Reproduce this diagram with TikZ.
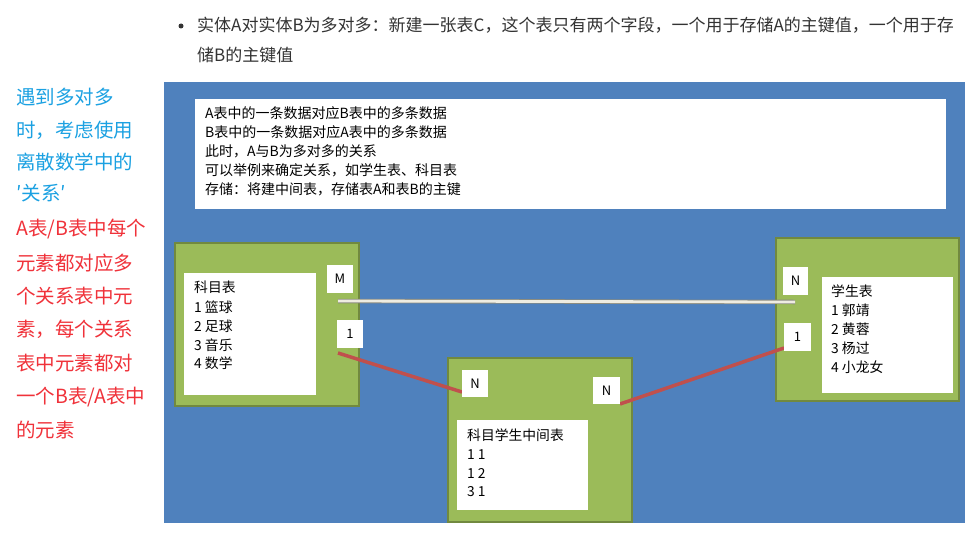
\documentclass[tikz,border=0pt]{standalone}
\usepackage{fontspec}
\setmainfont{Noto Sans CJK SC}
\definecolor{panelblue}{HTML}{4F81BD}
\definecolor{boxgreen}{HTML}{9BBB59}
\definecolor{boxgreendark}{HTML}{71893F}
\definecolor{relred}{HTML}{C0504D}
\definecolor{linecream}{HTML}{EEECE1}
\definecolor{lineshadow}{HTML}{8C8C80}
\definecolor{noteblue}{HTML}{1BA1E2}
\definecolor{notered}{HTML}{F0323A}
\definecolor{toptext}{HTML}{333333}
\pgfdeclarelayer{bg}
\pgfdeclarelayer{mid}
\pgfsetlayers{bg,mid,main}
\tikzset{
  rectbox/.style={anchor=north west, inner sep=0pt, outer sep=0pt},
  greenbox/.style={rectbox, fill=boxgreen, draw=boxgreendark, line width=1.5pt},
  whitebox/.style={rectbox, fill=white},
  tagbox/.style={rectbox, fill=white, font=\fontsize{13}{13}\selectfont, text=black},
  bigline/.style={anchor=base west, inner sep=0pt, font=\fontsize{19.5}{19.5}\selectfont},
  topline/.style={anchor=base west, inner sep=0pt, font=\fontsize{17}{17}\selectfont, text=toptext},
  noteline/.style={anchor=base west, inner sep=0pt, font=\fontsize{14}{14}\selectfont, text=black},
  tabline/.style={anchor=base west, inner sep=0pt, font=\fontsize{13.8}{13.8}\selectfont, text=black},
  redrel/.style={draw=relred, line width=3.5pt},
}
\begin{document}
\begin{tikzpicture}[x=1pt,y=-1pt]
\useasboundingbox (0,0) rectangle (965,535);

% top bullet text
\node[circle, fill=toptext, inner sep=0pt, minimum size=5pt] (bullet) at (181,26) {};
\node[topline] (top1) at (197,32) {实体A对实体B为多对多：新建一张表C，这个表只有两个字段，一个用于存储A的主键值，一个用于存};
\node[topline] (top2) at (197,61) {储B的主键值};

% left notes
\node[bigline, text=noteblue] (b1) at (16,104) {遇到多对多};
\node[bigline, text=noteblue] (b2) at (16,137) {时，考虑使用};
\node[bigline, text=noteblue] (b3) at (16,169) {离散数学中的};
\node[bigline, text=noteblue] (b4) at (16,200) {′关系′};
\node[bigline, text=notered] (r1) at (16,235) {A表/B表中每个};
\node[bigline, text=notered] (r2) at (16,270) {元素都对应多};
\node[bigline, text=notered] (r3) at (16,303) {个关系表中元};
\node[bigline, text=notered] (r4) at (16,336) {素，每个关系};
\node[bigline, text=notered] (r5) at (16,370) {表中元素都对};
\node[bigline, text=notered] (r6) at (16,403) {一个B表/A表中};
\node[bigline, text=notered] (r7) at (16,437) {的元素};

% background, panel and green boxes
\begin{pgfonlayer}{bg}
\fill[white] (0,0) rectangle (965,535);
\node[rectbox, fill=panelblue, minimum width=801pt, minimum height=441pt] (panel) at (164,82) {};
\node[greenbox, minimum width=184pt, minimum height=163pt] (subj) at (175,243) {};
\node[greenbox, minimum width=184pt, minimum height=164pt] (mid) at (448,358) {};
\node[greenbox, minimum width=183pt, minimum height=163pt] (stu) at (776,238) {};
\end{pgfonlayer}

% note box
\node[whitebox, minimum width=751pt, minimum height=110pt] (note) at (195,99) {};
\node[noteline] (n1) at (205,118) {A表中的一条数据对应B表中的多条数据};
\node[noteline] (n2) at (205,137) {B表中的一条数据对应A表中的多条数据};
\node[noteline] (n3) at (205,156) {此时，A与B为多对多的关系};
\node[noteline] (n4) at (205,175) {可以举例来确定关系，如学生表、科目表};
\node[noteline] (n5) at (205,194) {存储：将建中间表，存储表A和表B的主键};

% table white areas
\node[whitebox, minimum width=132pt, minimum height=122pt] (subjw) at (184,273) {};
\node[whitebox, minimum width=131pt, minimum height=90pt] (midw) at (457,420) {};
\node[whitebox, minimum width=131pt, minimum height=116pt] (stuw) at (822,277) {};

\node[tabline] (s0) at (194,292) {科目表};
\node[tabline] (s1) at (194,312) {1 篮球};
\node[tabline] (s2) at (194,331) {2 足球};
\node[tabline] (s3) at (194,350) {3 音乐};
\node[tabline] (s4) at (194,368) {4 数学};

\node[tabline] (m0) at (467,440) {科目学生中间表};
\node[tabline] (m1) at (467,459) {1 1};
\node[tabline] (m2) at (467,478) {1 2};
\node[tabline] (m3) at (467,496) {3 1};

\node[tabline] (t0) at (831,296) {学生表};
\node[tabline] (t1) at (831,315) {1 郭靖};
\node[tabline] (t2) at (831,334) {2 黄蓉};
\node[tabline] (t3) at (831,353) {3 杨过};
\node[tabline] (t4) at (831,372) {4 小龙女};

% tags
\node[tagbox, minimum width=26pt, minimum height=28pt] (tagM) at (327,265) {M};
\node[tagbox, minimum width=26pt, minimum height=28pt] (tagA1) at (337,320) {1};
\node[tagbox, minimum width=26pt, minimum height=27pt] (tagNL) at (462,370) {N};
\node[tagbox, minimum width=27pt, minimum height=27pt] (tagNR) at (593,377) {N};
\node[tagbox, minimum width=25pt, minimum height=28pt] (tagN2) at (783,267) {N};
\node[tagbox, minimum width=27pt, minimum height=28pt] (tagB1) at (784,323) {1};

% connectors
\coordinate (wA) at (338,301);
\coordinate (wB) at (795,302);
\begin{pgfonlayer}{mid}
\draw[lineshadow, line width=4.5pt] (wA) -- (wB);
\draw[linecream, line width=2.8pt] (wA) -- (wB);
\draw[redrel] ([shift={(1pt,-5pt)}]tagA1.south west) -- ([yshift=5pt]tagNL.south west);
\draw[redrel] (tagNR.south east) -- ([yshift=3pt]tagB1.south west);
\end{pgfonlayer}
\end{tikzpicture}
\end{document}
